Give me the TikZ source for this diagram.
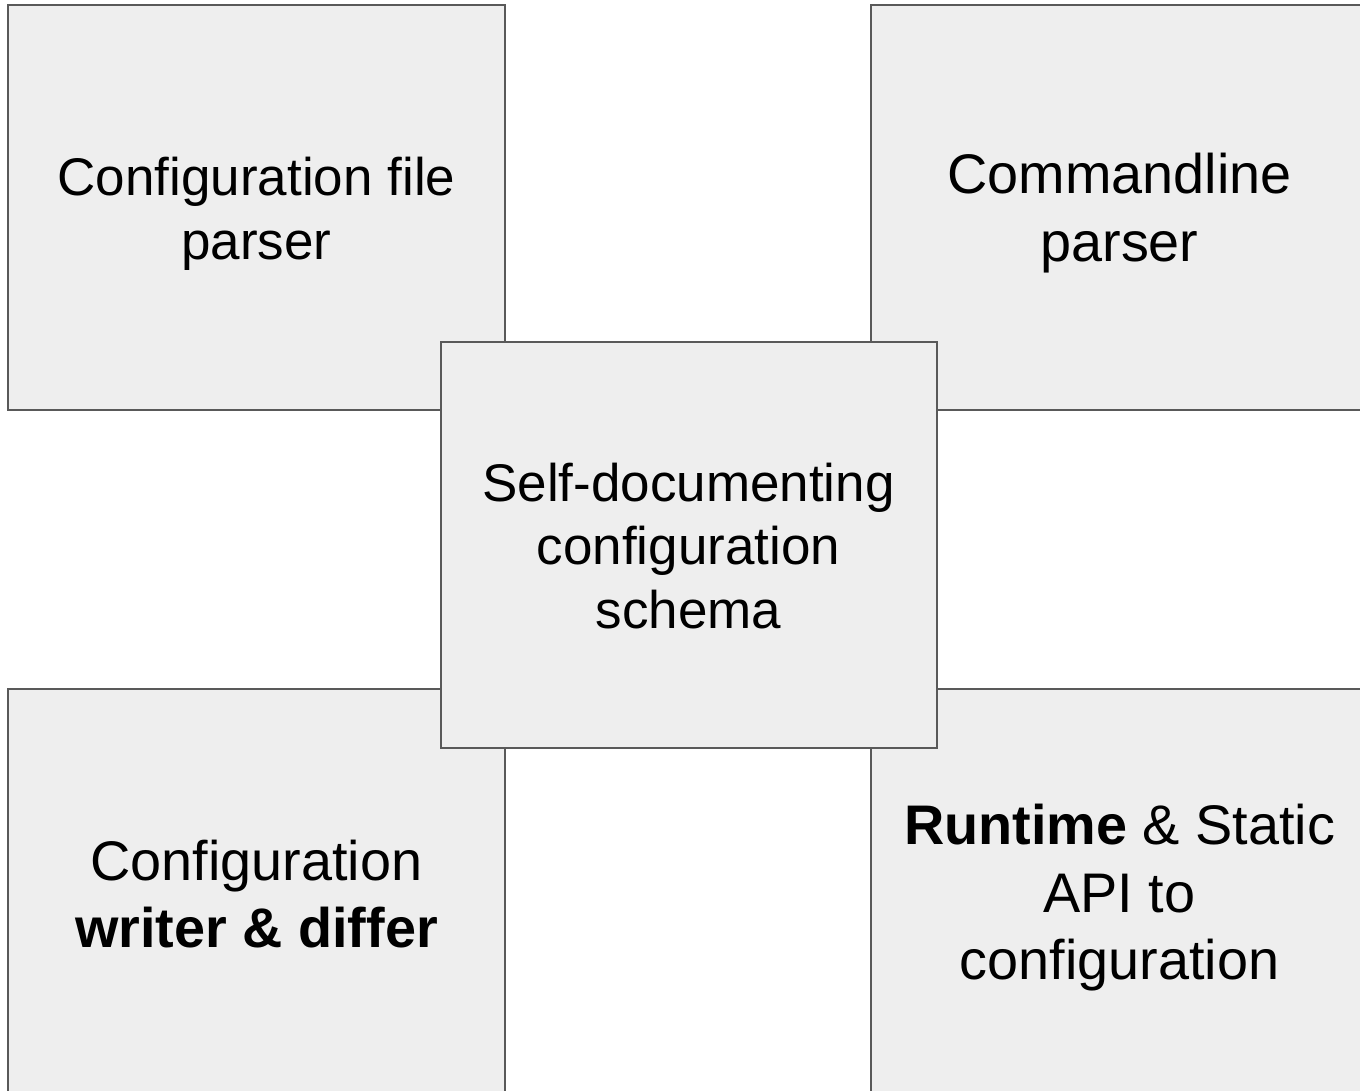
\documentclass[tikz,border=0pt]{standalone}
\usepackage{fontspec}
\setmainfont{Liberation Sans}
\definecolor{boxfill}{HTML}{EEEEEE}
\definecolor{boxline}{HTML}{595959}
\begin{document}
\begin{tikzpicture}[x=1pt,y=-1pt,
  panel/.style={draw=boxline,line width=2pt,fill=boxfill},
  lbl/.style={align=center,font=\fontsize{53}{63.5}\selectfont,inner sep=0pt},
  biglbl/.style={align=center,font=\fontsize{55.8}{67.5}\selectfont,inner sep=0pt}]
\useasboundingbox (0,0) rectangle (1360,1091);
\begin{scope}
\clip (0,0) rectangle (1360,1091);
\draw[panel] (8,5) rectangle (505,410);
\node[lbl] (tl) at (256.5,214) {Configuration file\\parser};
\draw[panel] (871,5) rectangle (1368,410);
\node[biglbl] (tr) at (1119.5,213) {Commandline\\parser};
\draw[panel] (8,689) rectangle (505,1100);
\node[biglbl] (bl) at (256.5,894) {Configuration\\\textbf{writer \& differ}};
\draw[panel] (871,689) rectangle (1368,1100);
\node[biglbl] (br) at (1119.5,898) {\textbf{Runtime} \& Static\\API to\\configuration};
\draw[panel] (440.5,342) rectangle (937,748);
\node[lbl] (c) at (688.5,546) {Self-documenting\\configuration\\schema};
\end{scope}
\end{tikzpicture}
\end{document}
